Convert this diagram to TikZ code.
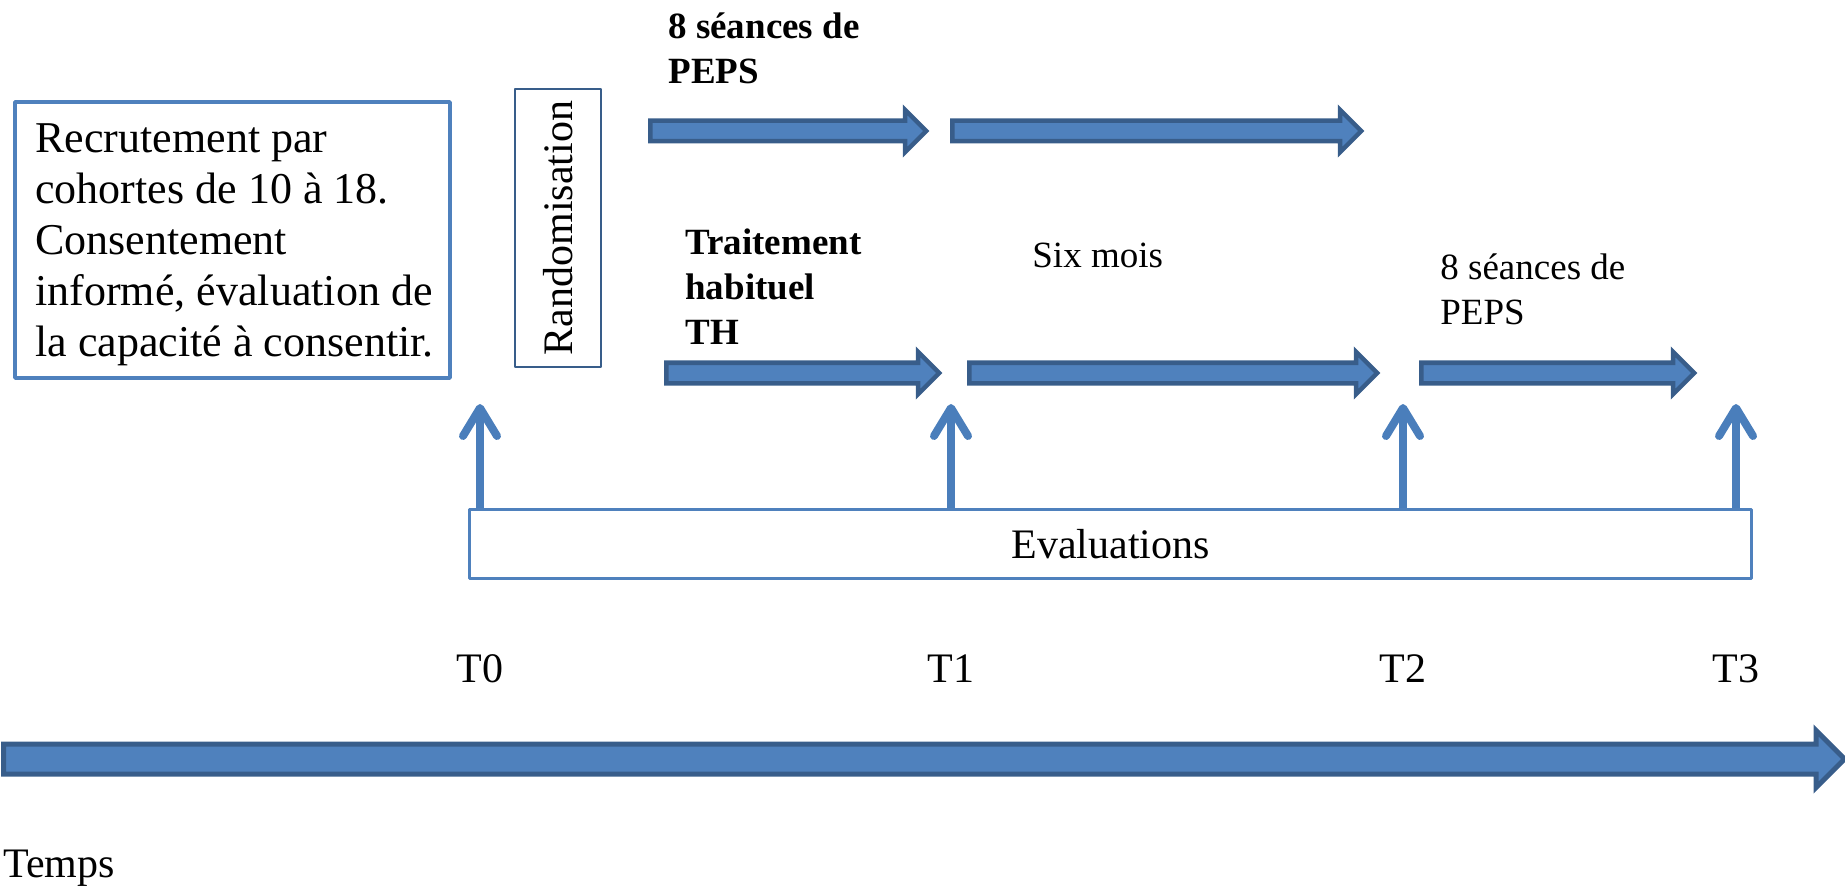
\documentclass[tikz,border=0pt]{standalone}
\usepackage{fontspec}
\setmainfont{Liberation Serif}
\usetikzlibrary{arrows.meta}
\usetikzlibrary{shapes.arrows}
\definecolor{officeblue}{HTML}{4F81BD}
\definecolor{officedark}{HTML}{385D8A}
\definecolor{evalblue}{HTML}{4A7EBB}

\begin{document}
\begin{tikzpicture}[>={Straight Barb[round,length=14pt,width=17pt]},line join=bevel,x=0.5pt,y=-0.5pt,
  blockarrow/.style={single arrow,draw=officedark,fill=officeblue,line width=2.25pt,line join=miter,
    inner xsep=0pt,inner ysep=4pt,single arrow head extend=5.5pt,anchor=west},
  evalarrow/.style={draw=evalblue,line width=4pt,->},
  bigtext/.style={font=\fontsize{21}{24}\selectfont},
  smalltext/.style={font=\fontsize{18.5}{22.5}\selectfont,inner sep=0pt},
  boldtext/.style={font=\fontsize{18.5}{22.5}\selectfont\bfseries,inner sep=0pt,align=left,anchor=north west}]
\useasboundingbox (0,0) rectangle (1845,887);
%%
\node (node_recrut) at (232.5,240) [draw=officeblue,line width=2pt,minimum width=217.5pt,minimum height=138pt] {};
  \node (node_recrut_txt) at (35,123) [anchor=north west,inner sep=0pt,align=left,font=\fontsize{22}{25.5}\selectfont] {Recrutement par\\cohortes de 10 à 18.\\Consentement\\informé, évaluation de\\la capacité à consentir.};
  \node (node_random) at (558,228) [draw=officedark,line width=1pt,rotate=90,minimum width=139pt,minimum height=43pt,bigtext,inner sep=0pt] {Randomisation};
  \node (node_peps_top) at (668,12) [boldtext] {8 séances de\\PEPS};
  \node (node_th) at (685,228) [boldtext] {Traitement\\habituel\\TH};
  \node (node_sixmois) at (1032,268) [smalltext,anchor=base west] {Six mois};
  \node (node_peps_bot) at (1440,253) [smalltext,align=left,anchor=north west] {8 séances de\\PEPS};
%
  \node (node_pepsA) at (648,131) [blockarrow,minimum height=138pt] {};
  \node (node_pepsB) at (950,131) [blockarrow,minimum height=204.5pt] {};
  \node (node_thA) at (664,373) [blockarrow,minimum height=136.5pt] {};
  \node (node_thB) at (967,373) [blockarrow,minimum height=204pt] {};
  \node (node_thC) at (1419,373) [blockarrow,minimum height=136.5pt] {};
%
  \node (node_evals) at (1110.5,544) [draw=officeblue,line width=1.5pt,minimum width=641pt,minimum height=34.5pt,bigtext] {Evaluations};
  \node (node_t0) at (480,682) [anchor=base,bigtext,inner sep=0pt] {T0};
  \node (node_t1) at (951,682) [anchor=base,bigtext,inner sep=0pt] {T1};
  \node (node_t2) at (1403,682) [anchor=base,bigtext,inner sep=0pt] {T2};
  \node (node_t3) at (1736,682) [anchor=base,bigtext,inner sep=0pt] {T3};
  \coordinate (tip_t0) at (480,404);
  \coordinate (tip_t1) at (951,404);
  \coordinate (tip_t2) at (1403,404);
  \coordinate (tip_t3) at (1736,404);
  \draw [evalarrow] (node_evals.north -| node_t0) -- (tip_t0);
  \draw [evalarrow] (node_evals.north -| node_t1) -- (tip_t1);
  \draw [evalarrow] (node_evals.north -| node_t2) -- (tip_t2);
  \draw [evalarrow] (node_evals.north -| node_t3) -- (tip_t3);
%
  \node (node_temps_arrow) at (1,759) [blockarrow,line width=2.5pt,inner ysep=6.25pt,single arrow head extend=6.75pt,minimum height=920.5pt] {};
  \node (node_temps) at (3,877) [anchor=base west,font=\fontsize{21}{24}\selectfont,inner sep=0pt] {Temps};
%
\end{tikzpicture}
\end{document}
